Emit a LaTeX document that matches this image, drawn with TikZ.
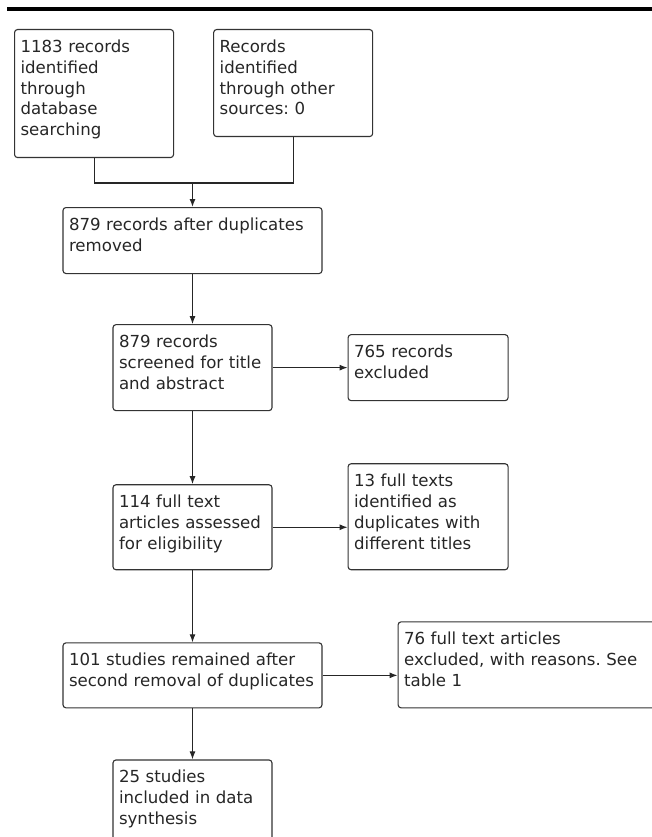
\documentclass[tikz,border=0pt]{standalone}
\usepackage{fontspec}
\setmainfont{DejaVu Sans}
\frenchspacing
\usepackage{tikz}
\usetikzlibrary{arrows.meta,positioning}

\begin{document}
\begin{tikzpicture}[
  x=1pt, y=-1pt,
  box/.style={rectangle, draw=black!80, line width=1.1pt, rounded corners=3pt, anchor=north west,
    align=left, inner xsep=6pt, inner ysep=6pt, text height=17pt, text=black!85,
    font=\fontsize{16.6}{20.8}\selectfont},
  arrow/.style={-{Latex[length=8pt,width=6pt]}, line width=1.1pt, black!85},
  line/.style={line width=1.1pt, black!85},
]
\useasboundingbox (0,0) rectangle (652,837);
\clip (0,0) rectangle (652,837);

% rule at the top
\draw[line width=4pt] (7,9.5) -- (652,9.5);

\node[box, text width=147pt, text depth=99pt] (db) at (14,29)
  {1183 records\\identified\\through\\database\\searching};
\node[box, text width=147pt, text depth=78pt, right=39pt of db.north east, anchor=north west] (other)
  {Records\\identified\\through other\\sources: 0};
\coordinate (merge) at (192.5,183);

\node[box, text width=247pt, text depth=37pt, below=24pt of merge] (dedup)
  {879 records after duplicates\\removed};
\node[box, text width=147pt, text depth=57pt, below=50pt of dedup] (screen)
  {879 records\\screened for title\\and abstract};
\node[box, text width=148pt, text depth=37pt, right=75pt of screen] (excl)
  {765 records\\excluded};
\node[box, text width=147pt, text depth=56pt, below=73pt of screen] (full)
  {114 full text\\articles assessed\\for eligibility};
\node[box, text width=148pt, text depth=77pt, right=75pt of full.north east, anchor=north west, yshift=21pt] (dupl)
  {13 full texts\\identified as\\duplicates with\\different titles};
\node[box, text width=247pt, text depth=36pt, below=72pt of full] (remain)
  {101 studies remained after\\second removal of duplicates};
\node[box, text width=258pt, text depth=57pt, right=75pt of remain.north east, anchor=north west, yshift=21pt] (reasons)
  {76 full text articles\\excluded, with reasons. See\\table 1};
\node[box, text width=147pt, text depth=91pt, below=51pt of remain] (synth)
  {25 studies\\included in data\\synthesis};

\draw[line] (db.south) |- (merge) -| (other.south);
\draw[arrow] (merge) -- (dedup);
\draw[arrow] (dedup) -- (screen);
\draw[arrow] (screen) -- (excl);
\draw[arrow] (screen) -- (full);
\draw[arrow] (full.east) -- (full.east -| dupl.west);
\draw[arrow] (full) -- (remain);
\draw[arrow] (remain.east) -- (remain.east -| reasons.west);
\draw[arrow] (remain) -- (synth);
\end{tikzpicture}
\end{document}
